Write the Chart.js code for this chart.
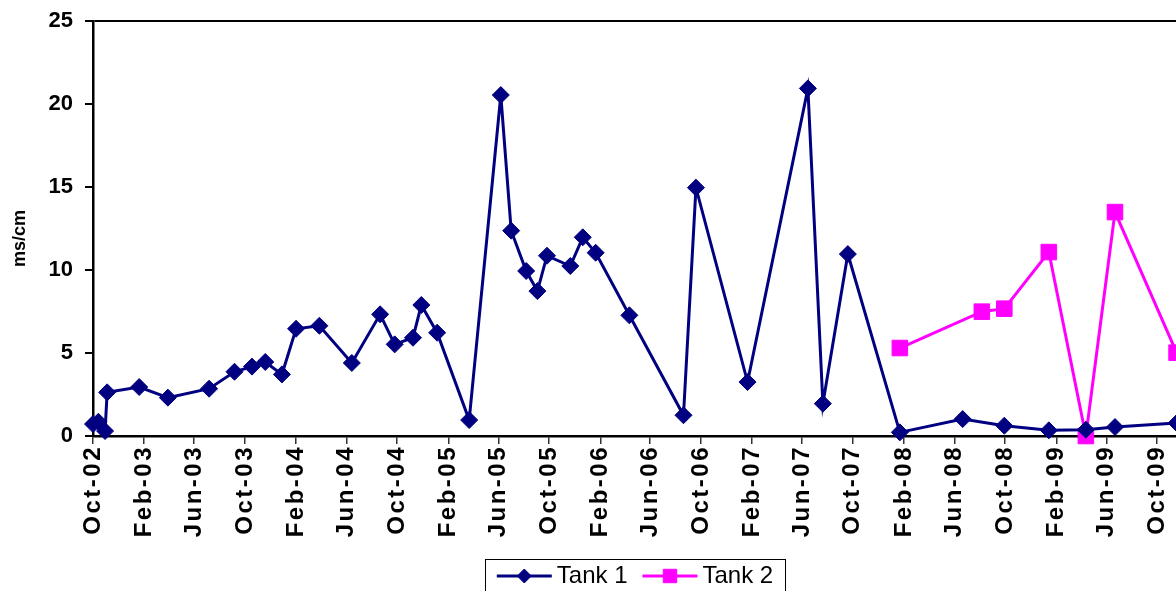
<!DOCTYPE html>
<html>
<head>
<meta charset="utf-8">
<script src="https://cdn.jsdelivr.net/npm/chart.js@4/dist/chart.umd.min.js"></script>
<style>
  html, body { margin: 0; padding: 0; background: #fff; overflow: hidden; }
</style>
</head>
<body>
<canvas id="chart" width="1189" height="598"></canvas>
<script>
// Conductivity readings (ms/cm)
const tank1Dates = [
  '2002-10-01', '2002-10-14', '2002-10-30', '2002-11-04', '2003-01-20', '2003-03-30',
  '2003-07-07', '2003-09-06', '2003-10-18', '2003-11-19', '2003-12-29', '2004-02-01',
  '2004-03-28', '2004-06-14', '2004-08-21', '2004-09-25', '2004-11-08', '2004-11-28',
  '2005-01-05', '2005-03-23', '2005-06-07', '2005-07-02', '2005-08-07', '2005-09-03',
  '2005-09-26', '2005-11-21', '2005-12-21', '2006-01-21', '2006-04-12', '2006-08-20',
  '2006-09-19', '2007-01-21', '2007-06-15', '2007-07-21', '2007-09-19', '2008-01-22',
  '2008-06-21', '2008-09-29', '2009-01-14', '2009-04-13', '2009-06-22', '2009-11-17'
];
const tank1Values = [
  0.72, 0.86, 0.30, 2.63, 2.95, 2.31,
  2.85, 3.87, 4.18, 4.46, 3.71, 6.46,
  6.64, 4.40, 7.33, 5.52, 5.92, 7.89,
  6.22, 0.96, 20.54, 12.37, 9.94, 8.73,
  10.86, 10.24, 11.97, 11.04, 7.27, 1.25,
  14.96, 3.25, 20.94, 1.95, 10.96, 0.22,
  1.02, 0.62, 0.34, 0.38, 0.54, 0.78
];
const tank2Dates = ['2008-01-22', '2008-08-06', '2008-09-29', '2009-01-14', '2009-04-13', '2009-06-22', '2009-11-17'];
const tank2Values = [5.30, 7.49, 7.67, 11.08, 0.00, 13.49, 5.02];

const tickLabels = [
  'Oct-02', 'Feb-03', 'Jun-03', 'Oct-03', 'Feb-04', 'Jun-04', 'Oct-04', 'Feb-05',
  'Jun-05', 'Oct-05', 'Feb-06', 'Jun-06', 'Oct-06', 'Feb-07', 'Jun-07', 'Oct-07',
  'Feb-08', 'Jun-08', 'Oct-08', 'Feb-09', 'Jun-09', 'Oct-09'
];
const axisStart = '2002-10-01';
const axisEnd = '2009-11-18';
const yTitle = 'ms/cm';

// days since axisStart (linear axis, no date adapter needed)
const DAY = 86400000;
const months = ['Jan','Feb','Mar','Apr','May','Jun','Jul','Aug','Sep','Oct','Nov','Dec'];
function toDay(str) {
  const [y, m, d] = str.split('-').map(Number);
  const [y0, m0, d0] = axisStart.split('-').map(Number);
  return (Date.UTC(y, m - 1, d) - Date.UTC(y0, m0 - 1, d0)) / DAY;
}
function labelToDay(lbl) {
  const [mon, yy] = lbl.split('-');
  const mm = String(months.indexOf(mon) + 1).padStart(2, '0');
  return toDay(`20${yy}-${mm}-01`);
}
const tickDays = tickLabels.map(labelToDay);

Chart.defaults.font.family = '"Liberation Sans", Arial, sans-serif';
Chart.defaults.color = '#000';

// the old chart's rotated date labels are spaced out a bit
const spacedDates = {
  id: 'spacedDates',
  afterLayout(chart) {
    const sx = chart.scales.x;
    if (sx._spaced) return;
    const orig = sx.drawLabels.bind(sx);
    sx.drawLabels = area => {
      chart.ctx.save();
      chart.ctx.letterSpacing = '2.5px';
      orig(area);
      chart.ctx.restore();
    };
    sx._spaced = true;
  }
};

// y axis title, sitting a little below the middle of the plot like the original
const axisTitle = {
  id: 'axisTitle',
  afterDraw(chart) {
    const { ctx, chartArea } = chart;
    ctx.save();
    ctx.translate(20, (chartArea.top + chartArea.bottom) / 2 + 10);
    ctx.rotate(-Math.PI / 2);
    ctx.font = 'bold 18px "Liberation Sans", Arial, sans-serif';
    ctx.fillStyle = '#000';
    ctx.textAlign = 'center';
    ctx.textBaseline = 'middle';
    ctx.fillText(yTitle, 0, 0);
    ctx.restore();
  }
};

// Legend symbol (line + marker) and the frame around the legend
const legendLook = {
  id: 'legendLook',
  afterDraw(chart) {
    const lg = chart.legend;
    const boxes = lg.legendHitBoxes;
    if (!boxes || !boxes.length) return;
    const ctx = chart.ctx;
    const bw = lg.options.labels.boxWidth;
    const fs = lg.options.labels.font.size;
    ctx.save();
    boxes.forEach((hb, i) => {
      const ds = chart.data.datasets[i];
      const y = hb.top + fs / 2;
      const len = bw + 7;
      ctx.strokeStyle = ds.borderColor;
      ctx.lineWidth = 3;
      ctx.beginPath();
      ctx.moveTo(hb.left, y);
      ctx.lineTo(hb.left + len, y);
      ctx.stroke();
      ctx.fillStyle = ds.pointBackgroundColor;
      ctx.strokeStyle = ds.pointBorderColor;
      ctx.lineWidth = 1;
      Chart.helpers.drawPoint(ctx, {
        pointStyle: ds.pointStyle, radius: ds.pointRadius - 1.5, borderWidth: 1, rotation: 0
      }, hb.left + len / 2, y);
    });
    const first = boxes[0];
    const last = boxes[boxes.length - 1];
    const left = Math.round(first.left - 12) + 0.5;
    const right = Math.round(last.left + last.width + 12) + 0.5;
    const top = Math.round(first.top - 5) + 0.5;
    ctx.strokeStyle = '#000';
    ctx.lineWidth = 1;
    ctx.strokeRect(left, top, right - left, fs + 20);
    ctx.restore();
  }
};

new Chart(document.getElementById('chart'), {
  type: 'line',
  data: {
    datasets: [{
      label: 'Tank 1',
      data: tank1Dates.map((d, i) => ({ x: toDay(d), y: tank1Values[i] })),
      borderColor: '#000080',
      backgroundColor: '#000080',
      pointBackgroundColor: '#000080',
      pointBorderColor: '#000080',
      pointStyle: 'rectRot',
      pointRadius: 8.5,
      pointBorderWidth: 1,
      borderWidth: 3,
      tension: 0,
      clip: false
    }, {
      label: 'Tank 2',
      data: tank2Dates.map((d, i) => ({ x: toDay(d), y: tank2Values[i] })),
      borderColor: '#ff00ff',
      backgroundColor: '#ff00ff',
      pointBackgroundColor: '#ff00ff',
      pointBorderColor: '#ff00ff',
      pointStyle: 'rect',
      pointRadius: 11,
      pointBorderWidth: 1,
      borderWidth: 3,
      tension: 0,
      clip: false
    }]
  },
  options: {
    responsive: false,
    animation: false,
    layout: { padding: { top: 21, left: 0, right: 0, bottom: 0 } },
    plugins: {
      tooltip: { enabled: false },
      legend: {
        position: 'bottom',
        fullSize: false,
        labels: {
          boxWidth: 48,
          boxHeight: 24,
          padding: 15,
          color: '#000',
          font: { size: 24 },
          generateLabels: chart => chart.data.datasets.map((ds, i) => ({
            text: ds.label,
            fillStyle: 'rgba(0,0,0,0)',
            strokeStyle: 'rgba(0,0,0,0)',
            lineWidth: 0,
            hidden: false,
            datasetIndex: i
          }))
        }
      }
    },
    scales: {
      x: {
        type: 'linear',
        min: toDay(axisStart),
        max: toDay(axisEnd),
        afterBuildTicks: scale => { scale.ticks = tickDays.map(v => ({ value: v })); },
        afterFit: scale => { scale.height = 113; scale.paddingLeft = 0; scale.paddingRight = 0; },
        border: { color: '#000', width: 2.5 },
        grid: { drawOnChartArea: false, tickLength: 8, tickColor: '#333', lineWidth: 1.5 },
        ticks: {
          autoSkip: false,
          minRotation: 90,
          maxRotation: 90,
          padding: 1,
          color: '#000',
          font: { size: 24, weight: 'bold' },
          callback: value => tickLabels[tickDays.indexOf(value)]
        }
      },
      y: {
        min: 0,
        max: 25,
        afterFit: scale => { scale.width = 93; scale.paddingTop = 0; scale.paddingBottom = 0; },
        border: { color: '#000', width: 2.5 },
        grid: {
          color: ctx => (ctx.tick && ctx.tick.value === 25 ? '#000' : 'rgba(0,0,0,0)'),
          lineWidth: 2,
          tickLength: 8,
          tickColor: '#000'
        },
        ticks: {
          stepSize: 5,
          padding: 12,
          color: '#000',
          font: { size: 22, weight: 'bold' }
        },
        title: { display: false }
      }
    }
  },
  plugins: [spacedDates, axisTitle, legendLook]
});
</script>
</body>
</html>
